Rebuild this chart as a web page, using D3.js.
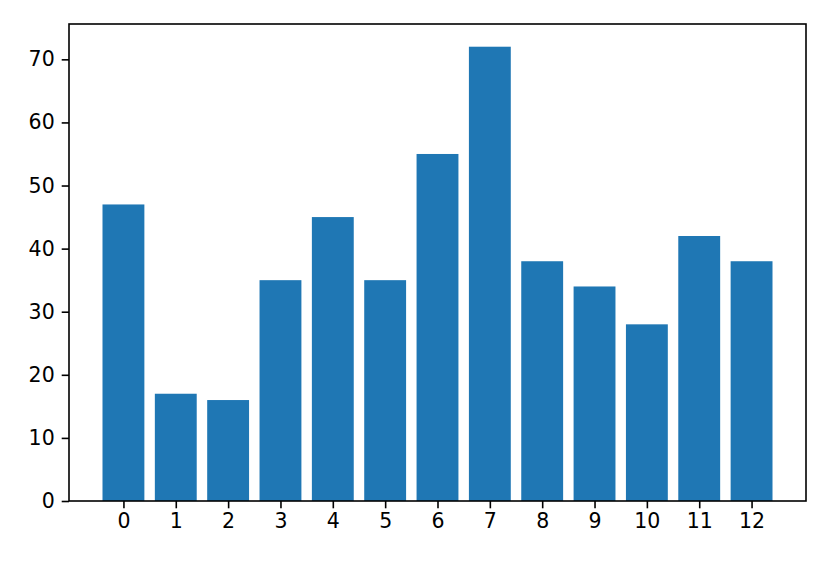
<!DOCTYPE html>
<html>
<head>
<meta charset="utf-8">
<script src="https://cdn.jsdelivr.net/npm/d3@7"></script>
<style>
  body { margin: 0; background: #fff; }
  text { font-family: "DejaVu Sans", sans-serif; }
</style>
</head>
<body>
<svg id="svg" width="830" height="564"></svg>
<script>
const categories = [0, 1, 2, 3, 4, 5, 6, 7, 8, 9, 10, 11, 12];
const values = [47, 17, 16, 35, 45, 35, 55, 72, 38, 34, 28, 42, 38];
const yTicks = [0, 10, 20, 30, 40, 50, 60, 70];

const svg = d3.select('#svg');
const plotLeft = 69, plotRight = 806, plotTop = 24, plotBottom = 501;

// matplotlib-like margins: bars span -0.4..12.4, plus 5% padding
const x = d3.scaleLinear().domain([-1.04, 13.04]).range([plotLeft, plotRight]);
const y = d3.scaleLinear().domain([0, 75.6]).range([plotBottom, plotTop]);
const barW = x(0.8) - x(0);

svg.selectAll('rect.bar')
    .data(values)
    .enter().append('rect')
    .attr('class', 'bar')
    .attr('x', (d, i) => x(categories[i]) - barW / 2)
    .attr('y', d => y(d))
    .attr('width', barW)
    .attr('height', d => y(0) - y(d))
    .attr('fill', '#1f77b4');

const xAxis = svg.append('g')
    .attr('transform', `translate(0,${plotBottom})`)
    .call(d3.axisBottom(x).tickValues(categories).tickFormat(d3.format('d')).tickSize(7.3).tickPadding(5));

const yAxis = svg.append('g')
    .attr('transform', `translate(${plotLeft},0)`)
    .call(d3.axisLeft(y).tickValues(yTicks).tickSize(7.3).tickPadding(7));

[xAxis, yAxis].forEach(g => {
    g.select('.domain').remove();
    g.selectAll('line').attr('stroke', '#000').attr('stroke-width', 1.6);
    g.selectAll('text').attr('fill', '#000').style('font-size', '20.5px');
});

// frame
svg.append('rect')
    .attr('x', plotLeft).attr('y', plotTop)
    .attr('width', plotRight - plotLeft).attr('height', plotBottom - plotTop)
    .attr('fill', 'none').attr('stroke', '#000').attr('stroke-width', 1.6);
</script>
</body>
</html>
